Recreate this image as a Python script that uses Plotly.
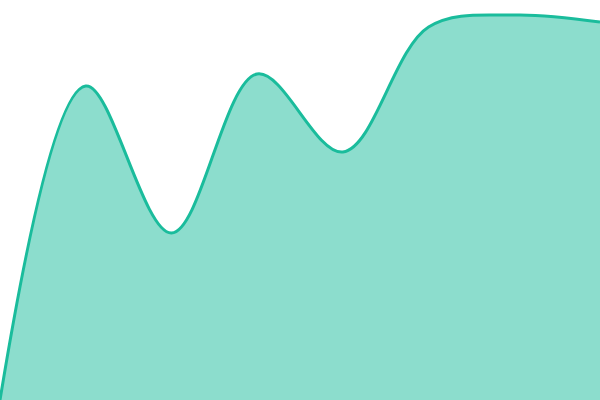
import plotly.graph_objects as go

# Data points (evenly spaced)
x_vals = [0, 1, 2, 3, 4, 5, 6, 7]
y_vals = [0, 314, 167, 326, 248, 373, 385, 378]

fig = go.Figure()

fig.add_trace(go.Scatter(
    x=x_vals,
    y=y_vals,
    mode='lines',
    line=dict(color='#1abc9c', width=3, shape='spline', smoothing=1),
    fill='tozeroy',
    fillcolor='rgba(26,188,156,0.5)',
    hoverinfo='skip'
))

fig.update_layout(
    width=600,
    height=400,
    margin=dict(l=0, r=0, t=0, b=0),
    paper_bgcolor='white',
    plot_bgcolor='white',
    showlegend=False,
    xaxis=dict(visible=False, range=[0, 7]),
    yaxis=dict(visible=False, range=[0, 400]),
)

# drop the default page margin so the chart fills the window, no modebar
fig.write_html(
    "out.html",
    config={'displayModeBar': False},
    post_script="document.body.style.margin='0';",
)
